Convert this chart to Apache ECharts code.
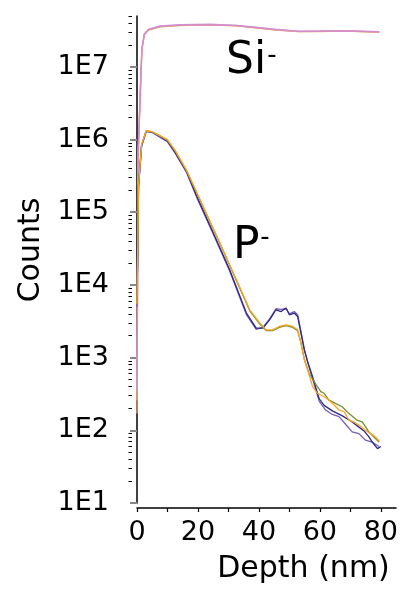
<!DOCTYPE html>
<html>
<head>
<meta charset="utf-8">
<script src="https://cdn.jsdelivr.net/npm/echarts@6/dist/echarts.min.js"></script>
<style>html,body{margin:0;padding:0;background:#fff}#c{width:401px;height:590px}</style>
</head>
<body>
<div id="c"></div>
<script>
// ---- Data ----
const siDepth = [0, 0.4, 1, 1.6, 2.4, 3.8, 7.6, 14, 24, 32.5, 38, 45.5, 53, 60, 68.5, 79.5];
const siPink     = [540, 7e5, 3.6e6, 1.75e7, 2.8e7, 3.25e7, 3.6e7, 3.75e7, 3.8e7, 3.68e7, 3.5e7, 3.25e7, 3.07e7, 3.1e7, 3.12e7, 3.02e7];
const siSalmon   = [170, 6e5, 3.3e6, 1.7e7, 2.75e7, 3.2e7, 3.55e7, 3.72e7, 3.75e7, 3.7e7, 3.45e7, 3.2e7, 3.05e7, 3.08e7, 3.1e7, 2.98e7];
const siLavender = [350, 8e5, 3.8e6, 1.8e7, 2.85e7, 3.3e7, 3.65e7, 3.8e7, 3.85e7, 3.72e7, 3.55e7, 3.3e7, 3.1e7, 3.12e7, 3.15e7, 3.05e7];
const siPeach    = [260, 6.5e5, 3.5e6, 1.72e7, 2.78e7, 3.22e7, 3.58e7, 3.7e7, 3.78e7, 3.65e7, 3.48e7, 3.22e7, 3.04e7, 3.06e7, 3.1e7, 3.0e7];

const pNavyDepth  = [0, 0.5, 1.5, 3, 5, 7.5, 10, 12.5, 16.3, 19.6, 25, 30.4, 35.9, 39.1, 41.3, 43.5, 45.6, 47.3, 48.9, 50, 51.6, 52.7, 53.8, 54.9, 56, 57.6, 59.8, 61.4, 64.1, 67.4, 70.6, 72.3, 74.5, 76.1, 77.2, 78.9, 80];
const pNavyCounts = [6e3, 2.3e5, 8.3e5, 1.3e6, 1.26e6, 1.1e6, 9.5e5, 6.7e5, 3.6e5, 1.66e5, 5.2e4, 1.62e4, 4.1e3, 2.54e3, 2.54e3, 3.31e3, 4.55e3, 4.3e3, 4.8e3, 3.88e3, 4.1e3, 3.68e3, 2.17e3, 1.28e3, 881, 547, 270, 220, 185, 158, 130, 115, 98, 81, 69, 56, 60];

const pPurpleDepth  = [0, 0.5, 1.5, 3, 5, 7.5, 10, 12.5, 16.3, 19.6, 25, 30.4, 35.9, 39.1, 41.3, 43.5, 45.6, 47.3, 48.9, 50, 51.6, 52.7, 53.8, 54.9, 56, 57.6, 59.8, 61.9, 64.1, 66.3, 68.5, 70.6, 72.8, 75, 77.1, 79.4];
const pPurpleCounts = [5e3, 2.2e5, 8e5, 1.28e6, 1.25e6, 1.08e6, 9.3e5, 6.5e5, 3.5e5, 1.6e5, 5.0e4, 1.55e4, 3.9e3, 2.45e3, 2.6e3, 3.4e3, 4.7e3, 4.6e3, 4.7e3, 4.0e3, 4.3e3, 3.9e3, 2.3e3, 1.3e3, 860, 510, 250, 190, 165, 154, 120, 95, 90, 73, 69, 60];

const pOliveDepth  = [0, 0.5, 1.5, 3, 5, 7.5, 10, 12.5, 16.3, 21.7, 27.2, 32.6, 37, 40.3, 42.4, 44.5, 46.7, 48.9, 51.1, 52.7, 53.8, 54.9, 56.5, 58.7, 60.3, 61.4, 62.9, 65.1, 67.3, 69.5, 72.2, 73.9, 76.1, 79.4];
const pOliveCounts = [5.4e3, 2.35e5, 8.4e5, 1.31e6, 1.27e6, 1.12e6, 9.8e5, 7.0e5, 3.7e5, 1.18e5, 3.7e4, 1.15e4, 4.4e3, 2.9e3, 2.35e3, 2.35e3, 2.6e3, 2.75e3, 2.6e3, 2.35e3, 1.6e3, 950, 600, 430, 340, 323, 263, 235, 211, 171, 138, 131, 95, 69];

const pOrangeDepth  = [0, 0.5, 1.5, 3, 5, 7.5, 10, 12.5, 16.3, 21.7, 27.2, 32.6, 37, 40.3, 42.4, 44.5, 46.7, 48.9, 51.1, 52.7, 53.8, 54.9, 56.5, 57.6, 59.2, 62, 64.1, 66.3, 68, 69.5, 71, 72.8, 75, 76.6, 78.3, 79.6];
const pOrangeCounts = [5.5e3, 2.4e5, 8.5e5, 1.32e6, 1.28e6, 1.13e6, 9.9e5, 7.1e5, 3.75e5, 1.21e5, 3.78e4, 1.18e4, 4.55e3, 2.98e3, 2.41e3, 2.41e3, 2.68e3, 2.83e3, 2.68e3, 2.41e3, 1.58e3, 930, 577, 398, 323, 280, 235, 190, 180, 138, 131, 118, 100, 90, 81, 70];

const xTickValues = [0, 10, 20, 30, 40, 50, 60, 70, 80];
const xLabelValues = [0, 20, 40, 60, 80];
const yMajorValues = [10, 100, 1000, 10000, 100000, 1000000, 10000000];
const yMinorValues = [];
for (let e = 1; e <= 7; e++) {
  for (let m = 2; m <= 9; m++) {
    const v = m * Math.pow(10, e);
    if (v <= 5e7) yMinorValues.push(v);
  }
}

const FONT = 'DejaVu Sans';
const pairs = (xs, ys) => xs.map((x, i) => [x, ys[i]]);
const line = (name, xs, ys, color, w) => ({
  name, type: 'line', data: pairs(xs, ys), showSymbol: false, symbol: 'none',
  lineStyle: { color, width: w || 1.3 }, itemStyle: { color }, animation: false, z: 3
});

const chart = echarts.init(document.getElementById('c'), null, { renderer: 'canvas' });
chart.setOption({
  animation: false,
  backgroundColor: '#fff',
  grid: { left: 137, right: 4, top: 16, bottom: 87, containLabel: false },
  xAxis: {
    type: 'value', min: 0, max: 85, interval: 10, offset: 5,
    name: 'Depth (nm)', nameLocation: 'middle', nameGap: 46,
    nameTextStyle: { fontFamily: FONT, fontSize: 30, color: '#000', padding: [0, 0, 0, 74] },
    axisLine: { show: true, lineStyle: { color: '#000', width: 1.5 } },
    axisTick: { show: true, length: 4, customValues: xTickValues, lineStyle: { color: '#000', width: 1.2 } },
    axisLabel: { customValues: xLabelValues, fontFamily: FONT, fontSize: 27, color: '#000', margin: 11 },
    splitLine: { show: false }
  },
  yAxis: [{
    type: 'log', logBase: 10, min: 10, max: 5e7, offset: 5,
    name: 'Counts', nameLocation: 'middle', nameGap: 84,
    nameTextStyle: { fontFamily: FONT, fontSize: 30, color: '#000', padding: [0, 0, 0, 19] },
    axisLine: { show: true, lineStyle: { color: '#000', width: 1.5 } },
    axisTick: { show: true, length: 7, customValues: yMajorValues, lineStyle: { color: '#888', width: 2 } },
    axisLabel: {
      customValues: yMajorValues, fontFamily: FONT, fontSize: 27, color: '#000', margin: 23,
      formatter: v => '1E' + Math.round(Math.log10(v))
    },
    splitLine: { show: false }
  }, {
    type: 'log', logBase: 10, min: 10, max: 5e7, offset: 5, position: 'left',
    axisLine: { show: false },
    axisTick: { show: true, length: 3.5, customValues: yMinorValues, lineStyle: { color: '#000', width: 1 } },
    axisLabel: { show: false },
    splitLine: { show: false }
  }],
  series: [
    line('Si- a', siDepth, siPeach, '#f0b47c'),
    line('Si- b', siDepth, siSalmon, '#eba27a'),
    line('Si- c', siDepth, siLavender, '#c99be0'),
    line('Si- d', siDepth, siPink, '#d88ac4'),
    line('P- purple', pPurpleDepth, pPurpleCounts, '#7b5db4'),
    line('P- navy', pNavyDepth, pNavyCounts, '#2d2a84'),
    line('P- olive', pOliveDepth, pOliveCounts, '#7a8b35'),
    line('P- orange', pOrangeDepth, pOrangeCounts, '#f7a521')
  ],
  graphic: [
    { type: 'text', x: 226, y: 62, style: { text: 'Si', font: '44px ' + FONT, fill: '#000', textAlign: 'left', textVerticalAlign: 'middle' } },
    { type: 'text', x: 272, y: 56, style: { text: '-', font: '26px ' + FONT, fill: '#000', textAlign: 'center', textVerticalAlign: 'middle' } },
    { type: 'text', x: 233, y: 247, style: { text: 'P', font: '44px ' + FONT, fill: '#000', textAlign: 'left', textVerticalAlign: 'middle' } },
    { type: 'text', x: 265, y: 238, style: { text: '-', font: '26px ' + FONT, fill: '#000', textAlign: 'center', textVerticalAlign: 'middle' } }
  ]
});
</script>
</body>
</html>
